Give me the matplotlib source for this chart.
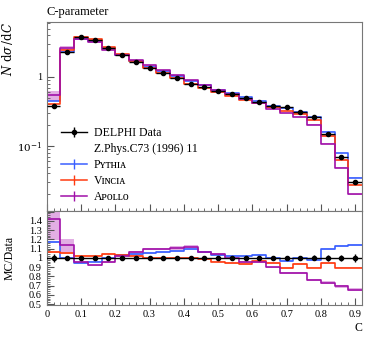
import matplotlib
matplotlib.use('Agg')
import matplotlib.pyplot as plt
import numpy as np
from matplotlib.lines import Line2D
from matplotlib.ticker import FixedLocator, MultipleLocator, FuncFormatter, LogLocator, NullFormatter

plt.rcParams['font.family'] = ['Liberation Serif', 'DejaVu Serif', 'DejaVu Sans']
plt.rcParams['mathtext.fontset'] = 'dejavuserif'

# bin edges of the C-parameter histogram
edges = np.round(np.arange(0, 0.9201, 0.04), 2)

# DELPHI data (main panel) and its relative error
data = [0.38, 2.33, 3.76, 3.44, 2.60, 2.06, 1.65, 1.34, 1.13, 0.957, 0.80, 0.71,
        0.62, 0.567, 0.50, 0.434, 0.38, 0.36, 0.314, 0.266, 0.148, 0.070, 0.0304]
data_err = [0.045, 0.02, 0.02, 0.02, 0.02, 0.02, 0.02, 0.02, 0.02, 0.02, 0.02, 0.02,
            0.02, 0.02, 0.02, 0.02, 0.02, 0.02, 0.02, 0.025, 0.03, 0.035, 0.04]

# MC / Data ratios
pythia_ratio = [1.17, 1.00, 0.94, 0.96, 1.00, 1.025, 1.046, 1.05, 1.06, 1.07, 1.09, 1.064,
                1.035, 1.018, 1.018, 1.035, 1.00, 0.968, 1.00, 0.975, 1.09, 1.124, 1.142]
vincia_ratio = [1.064, 1.05, 1.018, 1.018, 1.04, 1.03, 1.018, 1.00, 0.996, 0.996, 1.00, 0.982,
                0.96, 0.94, 0.93, 0.965, 0.947, 0.887, 0.93, 0.894, 0.94, 0.894, 0.894]
apollo_ratio = [1.42, 1.135, 0.957, 0.918, 0.957, 1.018, 1.064, 1.096, 1.096, 1.106, 1.12, 1.064,
                1.043, 0.993, 0.954, 0.954, 0.897, 0.833, 0.833, 0.76, 0.73, 0.69, 0.656]

# relative MC uncertainty (band half-widths)
pythia_band = [0.01] * 23
vincia_band = [0.01] * 23
apollo_band = [0.16, 0.06, 0.01, 0.01, 0.01, 0.01, 0.01, 0.01, 0.01, 0.015, 0.015, 0.01,
               0.01, 0.01, 0.01, 0.01, 0.01, 0.01, 0.01, 0.02, 0.025, 0.025, 0.02]

mcs = [
    ('Pʏᴛʜɪᴀ', pythia_ratio, pythia_band, '#3a5fff', '#8fa6ff'),
    ('Vɪɴᴄɪᴀ', vincia_ratio, vincia_band, '#ff3a10', '#ff9580'),
    ('Aᴘᴏʟʟᴏ', apollo_ratio, apollo_band, '#a010a8', '#cf78d3'),
]

data = np.array(data)
data_err = np.array(data_err)
centers = 0.5 * (edges[:-1] + edges[1:])

fig = plt.figure(figsize=(3.74, 3.37), dpi=100)
ax = fig.add_axes([0.125, 0.375, 0.843, 0.56])
rax = fig.add_axes([0.125, 0.095, 0.843, 0.28], sharex=ax)

fs = 8.5
for name, ratio, band, col, bcol in mcs:
    ratio = np.array(ratio)
    band = np.array(band)
    mc = data * ratio
    ext = lambda a: np.append(a, a[-1])
    ax.fill_between(edges, ext(mc * (1 - band)), ext(mc * (1 + band)), step='post',
                    color=bcol, alpha=0.6, lw=0)
    ax.step(edges, ext(mc), where='post', color=col, lw=1.2)
    rax.fill_between(edges, ext(ratio - band * ratio), ext(ratio + band * ratio), step='post',
                     color=bcol, alpha=0.6, lw=0)
    rax.step(edges, ext(ratio), where='post', color=col, lw=1.2)

ax.errorbar(centers, data, xerr=0.02, yerr=data * data_err, fmt='o', color='black',
            ms=3, lw=1.0, capsize=0, zorder=5)
rax.axhline(1.0, color='black', lw=1.0, zorder=4)
rax.errorbar(centers, np.ones_like(centers), yerr=data_err, fmt='o', color='black',
             ms=3, lw=1.0, capsize=0, zorder=5)

# main panel axes
ax.set_yscale('log')
ax.set_xlim(0, 0.92)
ax.set_ylim(0.0115, 6.27)
ax.yaxis.set_major_locator(FixedLocator([0.1, 1]))
ax.yaxis.set_major_formatter(FuncFormatter(lambda v, p: '1' if v == 1 else r'$10^{-1}$'))
ax.yaxis.set_minor_locator(LogLocator(base=10, subs=np.arange(2, 10)))
ax.yaxis.set_minor_formatter(NullFormatter())
ax.tick_params(axis='x', labelbottom=False)
ax.set_ylabel(r'$N\ \mathrm{d}\sigma\,/\mathrm{d}C$', fontsize=fs, loc='top')
ax.yaxis.set_label_coords(-0.1, 1.0)
ax.set_title('C-parameter', loc='left', fontsize=9, pad=5)

# ratio panel axes
rax.set_ylim(0.49, 1.51)
rax.yaxis.set_major_locator(MultipleLocator(0.1))
rax.yaxis.set_minor_locator(MultipleLocator(0.02))
rax.yaxis.set_major_formatter(FuncFormatter(lambda v, p: f'{v:g}' if 0.45 < v < 1.45 else ''))
rax.xaxis.set_major_locator(MultipleLocator(0.1))
rax.xaxis.set_minor_locator(MultipleLocator(0.02))
rax.xaxis.set_major_formatter(FuncFormatter(lambda v, p: f'{v:g}'))
rax.set_ylabel('MC/Data', fontsize=fs)
rax.yaxis.set_label_coords(-0.1, 0.5)
rax.set_xlabel('C', fontsize=fs, loc='right', labelpad=2)

for a in (ax, rax):
    a.tick_params(which='both', direction='in', labelsize=7.5, colors='#555555',
                  labelcolor='black', top=False, right=False)
    a.tick_params(which='major', length=5)
    a.tick_params(which='minor', length=2.5)
    for s in a.spines.values():
        s.set_color('#777777')
        s.set_linewidth(0.8)

handles = [
    (Line2D([], [], color='black', lw=1.0), Line2D([], [], color='black', marker='o', ms=3, ls='none'),
     Line2D([], [], color='black', marker='|', ms=7, ls='none')),
    Line2D([], [], color='none'),
]
labels = ['DELPHI Data', 'Z.Phys.C73 (1996) 11']
for name, ratio, band, col, bcol in mcs:
    handles.append((Line2D([], [], color=col, lw=1.1), Line2D([], [], color=col, marker='|', ms=7, ls='none')))
    labels.append(name)
ax.legend(handles, labels, loc='upper left', bbox_to_anchor=(0.03, 0.47), frameon=False,
          fontsize=fs, handlelength=2.2, labelspacing=0.35, borderaxespad=0.0, handletextpad=0.6)

fig.savefig('out.png', dpi=100)
